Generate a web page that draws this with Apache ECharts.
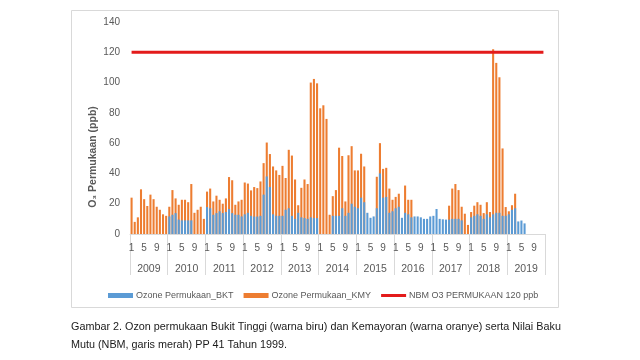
<!DOCTYPE html>
<html>
<head>
<meta charset="utf-8">
<script src="https://cdn.jsdelivr.net/npm/echarts@6/dist/echarts.min.js"></script>
<style>
html,body{margin:0;padding:0;background:#fff;}
#c{width:640px;height:360px;}
</style>
</head>
<body>
<div id="c"></div>
<script>
// ---- data ----
const years = ['2009','2010','2011','2012','2013','2014','2015','2016','2017','2018','2019'];
const monthLabels = ['1','2','3','4','5','6','7','8','9','10','11','12'];
const yTicks = [0, 20, 40, 60, 80, 100, 120, 140];
const nbmLimit = 120;

// Ozone Permukaan_KMY (orange), Jan..Dec per year
const kmy = [
  24, 8, 11, 29.5, 23, 18.5, 26, 23, 18, 16, 13, 12,                 // 2009
  18, 29, 23.5, 19.3, 22.6, 22.6, 21, 33, 14, 16, 18, 10,            // 2010
  28, 30, 21.5, 25.3, 22.6, 20, 23.5, 37.6, 35.5, 19.3, 21.5, 22.6,  // 2011
  34, 33.3, 28.8, 31, 30.3, 34.7, 46.8, 60.4, 52.8, 44.6, 42, 39,    // 2012
  45, 37, 55.6, 51.8, 36, 19, 30.5, 36, 33, 100, 102.4, 99.5,        // 2013
  83, 85, 76, 12.7, 25, 29, 57, 51.5, 21.5, 52, 58, 42,              // 2014
  42, 53, 44.6, null, null, null, 37.8, 60, 43, 43.7, 30, 22.6,      // 2015
  24.5, 26.6, null, 32, 22.6, 22.6, null, null, null, null, null, null, // 2016
  null, null, null, null, null, 18.7, 30, 33, 29, 18, 13.4, 6,       // 2017
  14.5, 18.7, 21, 19.3, 13.8, 21, 14.5, 122, 113, 103.5, 56.5, 17.8, // 2018
  15, 19, 26.6, null, null, null, null, null, null, null, null, null // 2019
];

// Ozone Permukaan_BKT (blue), Jan..Dec per year
const bkt = [
  null, null, null, null, null, null, null, null, null, null, null, null, // 2009
  11.6, 12.7, 13.8, 9.5, 9, 9, 9, 9, null, null, null, null,          // 2010
  17.8, 17, 12.7, 13.8, 15, 13.8, 14.5, 16.5, 13.8, 12.7, 12.7, 11.6, // 2011
  13, 14, 12, 11.5, 11.5, 12, 26, 38, 31, 13, 12, 12,                  // 2012
  12, 16, 17, 12, 10, 14, 11, 10.5, 10, 11, 10.5, 10.5,                // 2013
  null, null, null, null, 12, 12, 12, 17, 12, 14, 20, 18,              // 2014
  17, 24, 21, 14, 10.7, 11.6, 17, 40, 24, 24.5, 14, 15,                // 2015
  17, 18, 10.7, 14, 13, 11, 11.6, 11.6, 11, 10, 10, 11.6,              // 2016
  12, 16.5, 10, 9.7, 9.5, 9.5, 10, 10, 10, 9, null, null,              // 2017
  11, 12, 13, 12, 10, 13, 11, 13, 14, 14, 12, 12,                      // 2018
  13, 16, 17, 8.3, 8.9, 7, null, null, null, null, null, null          // 2019
];

// ---- build ----
const monthCats = [];
years.forEach(function(y){ monthLabels.forEach(function(m){ monthCats.push(m); }); });
const nbmLine = monthCats.map(function(){ return nbmLimit; });

const FONT = 'Liberation Sans';
const GREY = '#595959';

const chart = echarts.init(document.getElementById('c'), null, {renderer:'canvas'});
chart.setOption({
  animation: false,
  backgroundColor: '#ffffff',
  textStyle: {fontFamily: FONT},
  grid: {left: 130, right: 95, top: 22, bottom: 126, containLabel: false},
  legend: {
    left: 103, top: 286,
    itemWidth: 25, itemHeight: 5, itemGap: 10,
    textStyle: {fontFamily: FONT, fontSize: 9, color: GREY, padding: [0, 0, 0, -2]},
    data: [
      {name: 'Ozone Permukaan_BKT', icon: 'rect'},
      {name: 'Ozone Permukaan_KMY', icon: 'rect'},
      {name: 'NBM O3 PERMUKAAN 120 ppb', icon: 'path://M0,0H25V3H0Z'}
    ]
  },
  xAxis: [
    {
      type: 'category', data: monthCats, position: 'bottom', gridIndex: 0,
      axisLine: {show: true, lineStyle: {color: '#d9d9d9', width: 1}},
      axisTick: {show: false},
      axisLabel: {
        interval: function(i){ return i % 4 === 0; },
        margin: 9, fontSize: 10, color: GREY, fontFamily: FONT
      },
      splitLine: {show: false}
    },
    {
      type: 'category', data: years, position: 'bottom', gridIndex: 0,
      axisLine: {show: false},
      axisTick: {show: true, interval: 0, length: 41, lineStyle: {color: '#d9d9d9'}},
      axisLabel: {interval: 0, margin: 30, fontSize: 10.5, color: GREY, fontFamily: FONT},
      splitLine: {show: false}
    }
  ],
  yAxis: {
    type: 'value', min: 0, max: 140, interval: 20,
    axisLine: {show: false}, axisTick: {show: false},
    splitLine: {show: false},
    axisLabel: {
      margin: 10, fontSize: 10, color: GREY, fontFamily: FONT,
      formatter: function(v){ return yTicks.indexOf(v) >= 0 ? String(v) : ''; }
    }
  },
  series: [
    {
      name: 'Ozone Permukaan_KMY', type: 'bar', xAxisIndex: 0,
      data: kmy, barWidth: '66%', barGap: '-100%',
      itemStyle: {color: '#ed7d31'}
    },
    {
      name: 'Ozone Permukaan_BKT', type: 'bar', xAxisIndex: 0,
      data: bkt, barWidth: '66%', barGap: '-100%',
      itemStyle: {color: '#5b9bd5'}
    },
    {
      name: 'NBM O3 PERMUKAAN 120 ppb', type: 'line', xAxisIndex: 0,
      data: nbmLine, symbol: 'none',
      lineStyle: {color: '#e31b1b', width: 3},
      itemStyle: {color: '#e31b1b'}
    }
  ],
  graphic: [
    {
      type: 'rect', silent: true, z: -1,
      shape: {x: 71.5, y: 10.5, width: 487, height: 297},
      style: {fill: 'none', stroke: '#d9d9d9', lineWidth: 1}
    },
    {
      type: 'text', x: 93, y: 157, rotation: Math.PI / 2,
      style: {
        text: 'O₃ Permukaan (ppb)', fontFamily: FONT, fontSize: 10.5, fontWeight: 'bold',
        fill: GREY, align: 'center', verticalAlign: 'middle'
      }
    },
    {
      type: 'text', x: 71, y: 327,
      style: {
        text: 'Gambar 2. Ozon permukaan Bukit Tinggi (warna biru) dan Kemayoran (warna oranye) serta Nilai Baku',
        fontFamily: FONT, fontSize: 10.8, fill: '#1a1a1a', align: 'left', verticalAlign: 'middle'
      }
    },
    {
      type: 'text', x: 71, y: 345,
      style: {
        text: 'Mutu (NBM, garis merah) PP 41 Tahun 1999.',
        fontFamily: FONT, fontSize: 10.8, fill: '#1a1a1a', align: 'left', verticalAlign: 'middle'
      }
    }
  ]
});
</script>
</body>
</html>
